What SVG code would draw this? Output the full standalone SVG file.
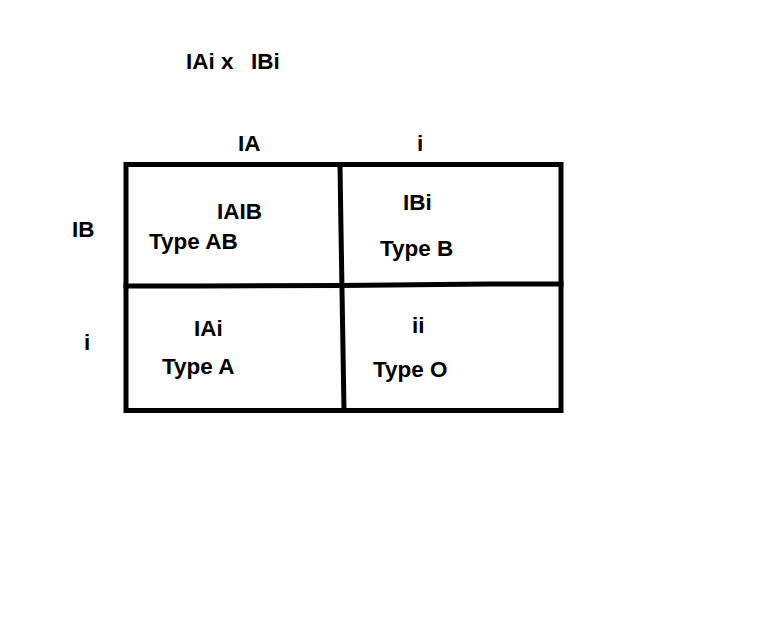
<svg xmlns="http://www.w3.org/2000/svg" width="784" height="632" viewBox="0 0 784 632">
<style>
text{font-family:"Liberation Sans",Arial,sans-serif;font-weight:bold;font-size:22.5px;fill:#000}
.ln{stroke:#000;stroke-width:5;fill:none;stroke-linecap:square}
</style>
<rect width="784" height="632" fill="#fff"/>
<g id="title"><text x="186" y="69">IAi x</text><text x="251" y="69">IBi</text></g>
<g id="connectors">
<path class="ln" d="M126 164.5H561V410.5H126Z"/>
<path class="ln" d="M340 164.5L341 230L344 410.5"/>
<path class="ln" d="M126 286H200L340 285.5L490 284L561 284"/>
</g>
<g id="col-IA"><text x="238" y="151">IA</text></g>
<g id="col-i"><text x="417" y="151">i</text></g>
<g id="row-IB"><text x="72" y="237">IB</text></g>
<g id="row-i"><text x="84" y="350">i</text></g>
<g id="cell-IAIB"><text x="217" y="219">IAIB</text><text x="149" y="249">Type AB</text></g>
<g id="cell-IBi"><text x="403" y="210">IBi</text><text x="380" y="256">Type B</text></g>
<g id="cell-IAi"><text x="194" y="336">IAi</text><text x="162" y="374">Type A</text></g>
<g id="cell-ii"><text x="412" y="333">ii</text><text x="373" y="377">Type O</text></g>
</svg>
